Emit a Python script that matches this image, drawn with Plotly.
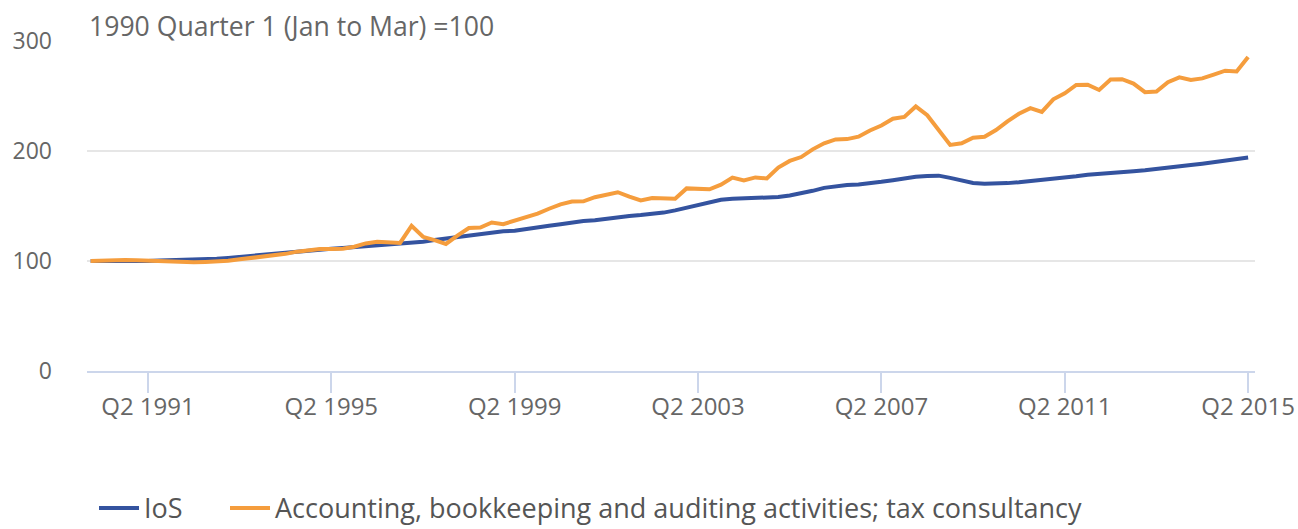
import plotly.graph_objects as go

quarters = [f"Q{q} {y}" for y in range(1990, 2016) for q in range(1, 5)][:102]

ios = [100, 99.9, 99.6, 99.5, 99.7, 100.1, 100.5, 100.7, 100.8, 101,
       101.4, 102, 102.8, 103.8, 104.8, 105.6, 106.4, 107.6, 108.7, 109.6,
       110.4, 111.2, 111.8, 112.6, 113.4, 114.2, 114.8, 115.6, 116.5, 117.6,
       119, 120.4, 121.8, 123.3, 124.6, 126, 127, 127.6, 128.8, 130.5,
       132, 133.5, 135, 136.3, 137, 138.6, 140.2, 141, 141.8, 142.6,
       144, 146, 148.5, 151.5, 153.6, 155.7, 156.5, 156.8, 157.2, 157.6,
       158.2, 159.6, 161.5, 163.8, 166.5, 168.2, 169, 169.6, 170.5, 172,
       173.5, 175.5, 176.6, 177.3, 177.6, 175.6, 173, 171, 170.3, 170.4,
       170.8, 171.6, 172.6, 174, 174.5, 175.5, 177, 178.5, 179.5, 180.2,
       181.4, 181.6, 182.5, 183.5, 184.5, 185.7, 187.2, 188.5, 190, 191.5,
       193, 194.1]

accounting = [100, 100.5, 100.8, 100.8, 100.6, 100.2, 99.8, 99.2, 98.9, 98.8,
              99.2, 99.6, 100.3, 101.5, 102.8, 104, 104.8, 106.5, 108.5, 110,
              111, 110.8, 111.2, 113, 116, 117.5, 116.5, 116.4, 132, 122,
              119, 115.5, 123, 130, 130.4, 135, 133.5, 136.5, 139.5, 143,
              147.5, 151.5, 154, 154.2, 158, 160.5, 162.5, 158.5, 155, 157.2,
              156.8, 156.6, 166, 165.6, 165.2, 169.4, 175.8, 173.3, 176, 175,
              185, 191, 194.5, 201.5, 207, 210.5, 210.8, 213, 218.7, 223.2,
              229.3, 231, 240.5, 232.5, 219.5, 205.5, 207, 212, 213, 219,
              227, 233.8, 239, 235.5, 247, 252.5, 260, 260.3, 255.5, 265,
              265.3, 261.3, 253.5, 254, 262.5, 267, 264.6, 266, 269.5, 273,
              272.3, 285.5]

tick_labels = ["Q2 1991", "Q2 1995", "Q2 1999", "Q2 2003", "Q2 2007", "Q2 2011", "Q2 2015"]
y_ticks = [0, 100, 200, 300]
series_names = ["IoS", "Accounting, bookkeeping and auditing activities; tax consultancy"]
colors = ["#34539f", "#f59d3d"]
unit_label = "1990 Quarter 1 (Jan to Mar) =100"

FONT = "Open Sans"

fig = go.Figure()
for k, (name, vals, col) in enumerate(zip(series_names, [ios, accounting], colors)):
    fig.add_trace(go.Scatter(
        x=quarters, y=vals, mode="lines", name=name,
        line=dict(color=col, width=4),
        legendwidth=76 if k == 0 else None,
    ))

fig.update_layout(
    width=1298, height=529,
    margin=dict(l=87, r=43, t=41, b=158),
    paper_bgcolor="white", plot_bgcolor="white",
    font=dict(family=FONT, size=22, color="#666666"),
    showlegend=True,
    legend=dict(
        orientation="h", x=0.006, xanchor="left",
        yref="container", y=0.039, yanchor="middle",
        font=dict(family=FONT, size=27, color="#555555"),
        itemwidth=40, bgcolor="rgba(0,0,0,0)",
    ),
    xaxis=dict(
        type="category", automargin=False,
        range=[-0.32, 101.6],
        tickmode="array", tickvals=tick_labels, ticktext=tick_labels,
        ticks="outside", ticklen=20, tickwidth=2, tickcolor="#ccd6eb",
        ticklabelstandoff=-7,
        showline=True, linecolor="#ccd6eb", linewidth=2,
        showgrid=False, zeroline=False,
        tickfont=dict(family=FONT, size=24, color="#666666"),
    ),
    yaxis=dict(
        range=[0, 300], automargin=False,
        tickmode="array", tickvals=y_ticks,
        showgrid=True, gridcolor="#e6e6e6", gridwidth=2,
        zeroline=False, showline=False, ticks="",
        ticklabelstandoff=34,
        tickfont=dict(family=FONT, size=23, color="#666666"),
    ),
    annotations=[dict(
        text=unit_label, xref="paper", yref="paper", x=0, y=1.045,
        xanchor="left", yanchor="middle", showarrow=False,
        font=dict(family=FONT, size=26.6, color="#666666"),
    )],
)

fig.write_html(
    "out.html",
    config={"displayModeBar": False},
    post_script="document.body.style.margin='0';document.body.style.overflow='hidden';",
)
